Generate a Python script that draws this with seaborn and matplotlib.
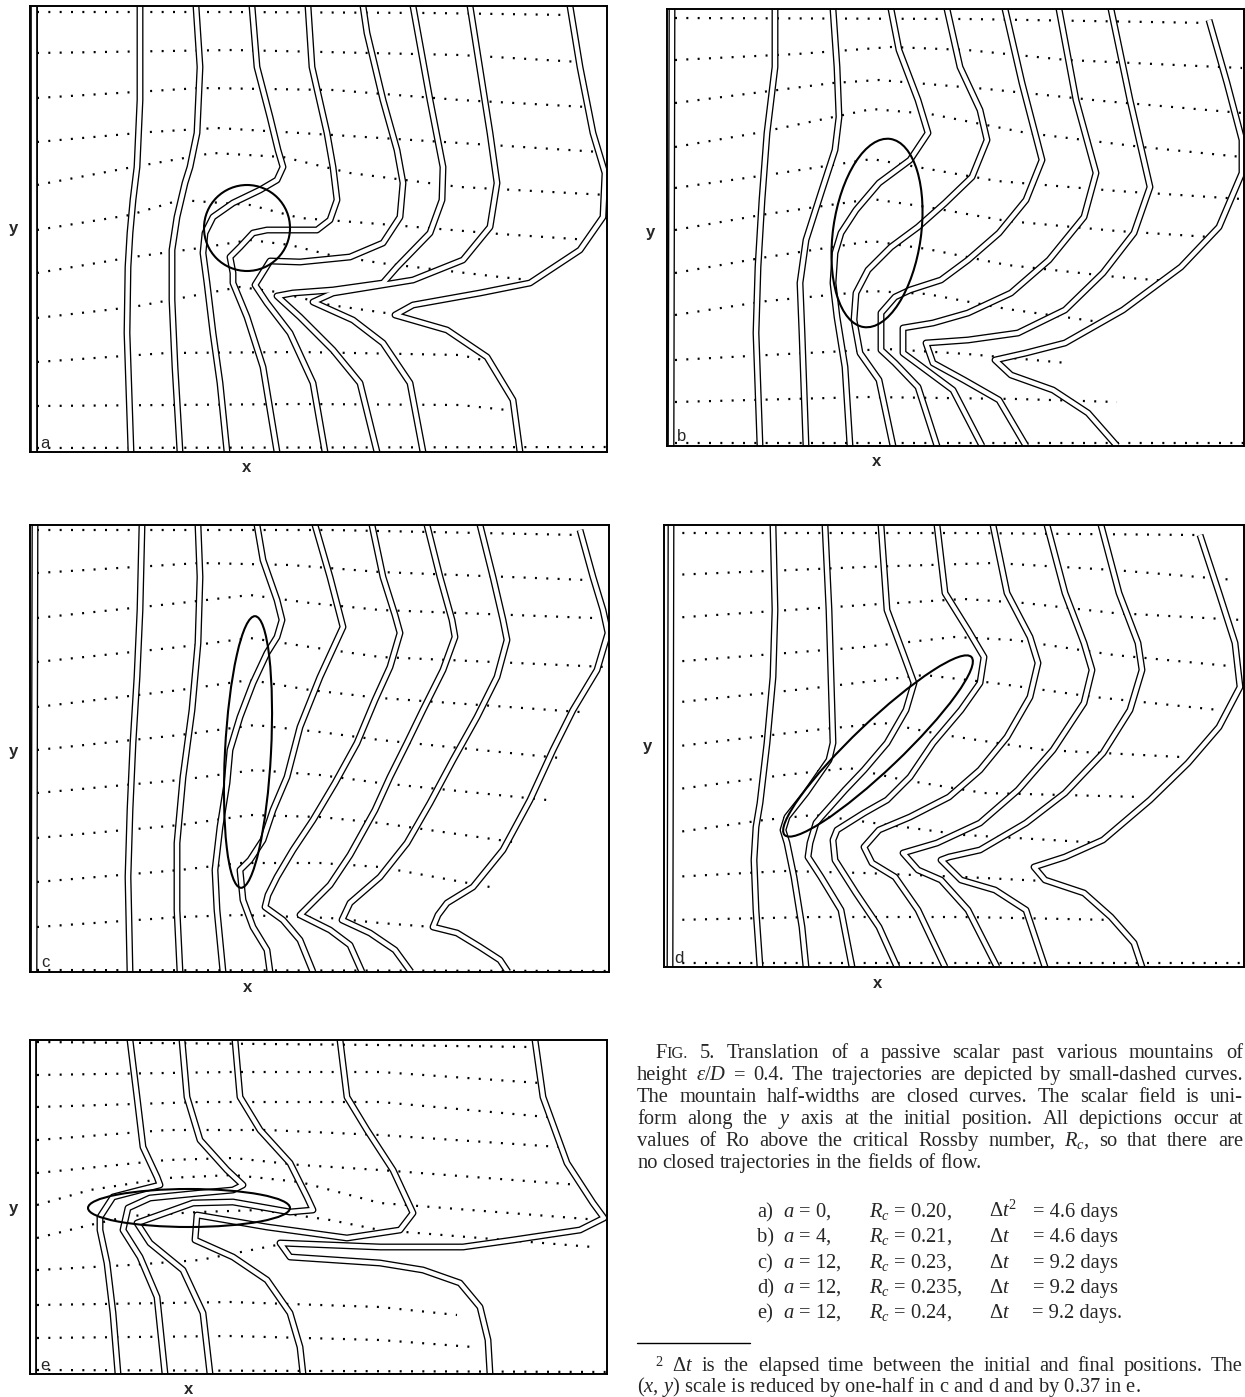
import numpy as np
import pandas as pd
import matplotlib
matplotlib.use("Agg")
import matplotlib.pyplot as plt
from matplotlib.patches import Ellipse
from matplotlib.lines import Line2D
import seaborn as sns

# ---------------- data: panel-local units (x from left frame, y from top frame) -------------
# Panel a
a_traj_x = [[7, 200, 400, 540], [7, 203, 430, 550], [7, 170, 303, 430, 557],
            [7, 120, 187, 303, 430, 570], [7, 103, 183, 253, 320, 430, 577],
            [7, 100, 150, 220, 270, 350, 470, 560], [7, 103, 170, 220, 260, 300, 350, 470, 500],
            [7, 103, 210, 247, 300, 370], [7, 137, 270, 430, 453], [7, 270, 430, 477], [7, 577]]
a_traj_y = [[6, 6, 7, 9], [47, 44, 49, 56], [92, 82, 84, 94, 101],
            [136, 126, 122, 129, 137, 146], [179, 161, 147, 151, 167, 181, 189],
            [224, 209, 194, 199, 212, 218, 228, 234], [267, 251, 242, 234, 239, 249, 257, 271, 274],
            [312, 301, 281, 286, 299, 309], [356, 347, 346, 349, 354], [400, 398, 399, 404], [442, 441]]
a_curve_x = [[4, 4], [110, 110, 107, 103, 100, 98, 97, 101],
             [166, 170, 167, 160, 155, 147, 142, 142, 145, 150],
             [222, 227, 240, 248, 253, 247, 230, 203, 183, 175, 173, 177, 183, 190, 197],
             [278, 282, 297, 303, 307, 300, 287, 237, 223, 210, 200, 203, 203, 217, 233, 247],
             [333, 337, 353, 367, 373, 370, 353, 320, 270, 240, 225, 237, 260, 283, 295],
             [383, 400, 413, 412, 400, 367, 353, 303, 263, 247, 270, 303, 330, 347],
             [440, 460, 467, 460, 433, 383, 303, 283, 323, 353, 380, 393],
             [540, 550, 563, 575, 573, 550, 500, 450, 383, 365, 417, 457, 483, 490]]
a_curve_y = [[0, 446], [0, 94, 161, 194, 227, 261, 327, 446],
             [0, 61, 127, 161, 177, 211, 244, 294, 361, 446],
             [0, 61, 111, 144, 161, 174, 184, 197, 211, 227, 247, 277, 327, 377, 446],
             [0, 61, 127, 161, 194, 214, 224, 224, 227, 241, 251, 267, 277, 311, 361, 446],
             [0, 27, 94, 144, 177, 211, 237, 251, 256, 255, 279, 297, 327, 377, 446],
             [0, 94, 161, 194, 227, 261, 277, 284, 287, 290, 311, 344, 377, 446],
             [0, 127, 177, 221, 254, 274, 287, 296, 314, 337, 377, 446],
             [0, 61, 127, 167, 211, 244, 277, 287, 299, 309, 324, 351, 394, 446]]
a_mountain = [217, 222, 43, 43, 0]   # centre x, centre y, half-width x, half-width y, tilt

# Panel b
b_traj_x = [[8, 300, 544], [8, 130, 224, 300, 400, 575], [8, 166, 212, 320, 436, 575],
            [8, 90, 205, 263, 360, 475, 575], [8, 100, 205, 250, 330, 450, 575],
            [8, 100, 205, 260, 340, 450, 543], [8, 100, 205, 260, 340, 450, 500],
            [8, 100, 205, 260, 340, 433], [8, 120, 220, 300, 400], [8, 200, 350, 450], [8, 577]]
b_traj_y = [[9, 10, 14], [51, 45, 38, 41, 51, 59], [94, 74, 71, 80, 92, 104],
            [138, 124, 100, 105, 124, 138, 148], [179, 166, 150, 158, 172, 182, 190],
            [221, 205, 190, 198, 212, 222, 228], [264, 248, 232, 240, 256, 268, 272],
            [306, 292, 282, 285, 300, 313], [351, 345, 340, 345, 354], [393, 388, 390, 393], [434, 434]]
b_curve_x = [[5, 4], [108, 108, 100, 95, 91, 89, 93],
             [166, 170, 172, 168, 154, 139, 133, 135, 139],
             [224, 232, 251, 261, 243, 212, 189, 174, 168, 166, 170, 178, 183],
             [280, 293, 313, 320, 305, 278, 251, 224, 201, 189, 187, 193, 212, 226],
             [338, 355, 375, 359, 332, 301, 274, 243, 228, 214, 214, 228, 251, 270],
             [392, 409, 429, 417, 382, 344, 301, 266, 236, 236, 255, 286, 315],
             [444, 463, 483, 467, 436, 398, 351, 301, 259, 266, 297, 332, 359],
             [542, 560, 575, 575, 552, 514, 456, 398, 359, 328, 344, 386, 421, 450]]
b_curve_y = [[0, 437], [0, 58, 124, 191, 258, 324, 437],
             [0, 58, 108, 141, 184, 231, 274, 324, 437],
             [0, 41, 91, 124, 151, 174, 201, 224, 244, 274, 308, 358, 437],
             [0, 58, 101, 131, 168, 194, 218, 238, 261, 284, 311, 344, 371, 437],
             [0, 74, 151, 191, 224, 251, 271, 281, 288, 304, 341, 354, 378, 437],
             [0, 91, 164, 208, 251, 284, 304, 314, 319, 344, 358, 381, 437],
             [0, 91, 178, 224, 264, 301, 324, 331, 334, 354, 371, 391, 437],
             [11, 74, 131, 164, 218, 258, 301, 334, 344, 351, 366, 381, 404, 437]]
b_mountain = [210, 224, 44, 95, 8]

# Panel c
c_traj_x = [[7, 300, 550], [7, 170, 260, 350, 557], [7, 150, 220, 280, 350, 563],
            [7, 150, 220, 280, 350, 577], [7, 150, 220, 280, 350, 550],
            [7, 150, 225, 290, 350, 530], [7, 150, 225, 290, 350, 517],
            [7, 150, 220, 290, 350, 490], [7, 150, 210, 290, 350, 460],
            [7, 150, 210, 300, 350, 403], [7, 579]]
c_traj_y = [[5, 5, 10], [48, 38, 40, 47, 55], [93, 78, 70, 78, 85, 93],
            [137, 122, 113, 122, 132, 142], [182, 165, 155, 165, 173, 187],
            [225, 210, 200, 207, 215, 233], [268, 255, 245, 250, 258, 275],
            [313, 300, 290, 292, 298, 318], [357, 345, 338, 338, 342, 362],
            [402, 392, 390, 393, 398, 402], [445, 446]]
c_curve_x = [[5, 4], [112, 110, 107, 103, 100, 98, 100],
             [168, 170, 168, 162, 153, 147, 147, 150],
             [227, 233, 247, 252, 247, 237, 223, 210, 200, 197, 190, 185, 187, 193],
             [285, 300, 313, 290, 270, 257, 243, 233, 220, 210, 213, 223, 237, 240],
             [342, 353, 365, 370, 360, 345, 327, 305, 283, 263, 247, 238, 235, 253, 270, 283],
             [397, 410, 422, 425, 413, 393, 377, 360, 345, 320, 300, 285, 270, 300, 320, 332],
             [450, 463, 473, 477, 467, 447, 423, 400, 377, 350, 320, 312, 340, 365, 381],
             [550, 563, 573, 578, 567, 543, 523, 500, 473, 443, 417, 408, 403, 427, 450, 470, 478]]
c_curve_y = [[0, 447], [0, 85, 152, 218, 285, 352, 447],
             [0, 52, 118, 185, 252, 318, 385, 447],
             [0, 35, 75, 95, 112, 128, 158, 192, 225, 258, 302, 345, 385, 447],
             [0, 52, 102, 152, 202, 252, 285, 315, 335, 345, 375, 402, 425, 447],
             [0, 52, 90, 108, 142, 175, 218, 258, 295, 325, 352, 370, 382, 395, 415, 447],
             [0, 52, 95, 112, 145, 185, 218, 252, 285, 330, 360, 375, 390, 405, 420, 447],
             [0, 52, 95, 115, 152, 192, 235, 278, 318, 352, 378, 395, 408, 425, 447],
             [5, 52, 85, 108, 145, 185, 225, 275, 325, 362, 378, 390, 402, 408, 422, 435, 447]]
c_mountain = [218, 227, 23, 136, 3]

# Panel d
d_traj_x = [[7, 300, 532], [7, 200, 330, 450, 571], [7, 200, 300, 360, 450, 578],
            [7, 200, 290, 350, 450, 576], [7, 150, 260, 330, 430, 555],
            [7, 150, 220, 280, 380, 517], [7, 120, 185, 240, 320, 478],
            [7, 100, 150, 210, 300, 439], [7, 120, 200, 300, 380], [7, 150, 300, 451], [7, 580]]
d_traj_y = [[8, 8, 10], [50, 42, 38, 45, 55], [93, 80, 74, 78, 88, 95],
            [137, 122, 112, 115, 130, 142], [178, 163, 150, 158, 172, 185],
            [222, 205, 198, 210, 225, 232], [265, 250, 243, 255, 268, 272],
            [308, 295, 290, 298, 310, 318], [352, 346, 348, 352, 356], [395, 392, 392, 395], [438, 438]]
d_curve_x = [[7, 6], [109, 111, 109, 103, 96, 92, 90, 92, 96],
             [161, 165, 167, 169, 165, 142, 123, 119, 123, 130, 138, 142],
             [217, 223, 239, 250, 242, 223, 200, 181, 157, 152, 146, 144, 157, 177, 188],
             [273, 281, 304, 320, 316, 297, 269, 246, 223, 200, 173, 169, 171, 192, 215, 233],
             [329, 343, 366, 374, 366, 343, 316, 285, 246, 215, 200, 208, 231, 254, 281],
             [383, 401, 420, 428, 420, 389, 354, 316, 273, 239, 254, 277, 304, 333],
             [437, 455, 474, 478, 466, 439, 401, 362, 316, 285, 277, 297, 331, 362, 381],
             [536, 555, 571, 576, 555, 524, 486, 439, 401, 370, 381, 420, 447, 470, 478]]
d_curve_y = [[0, 442], [0, 85, 152, 218, 278, 302, 335, 385, 442],
             [0, 85, 152, 218, 235, 268, 292, 305, 318, 352, 402, 442],
             [0, 85, 128, 158, 185, 218, 245, 265, 292, 298, 318, 332, 352, 385, 442],
             [0, 68, 105, 132, 158, 185, 218, 252, 275, 288, 305, 315, 335, 368, 402, 442],
             [0, 68, 112, 138, 172, 212, 245, 272, 292, 305, 322, 338, 352, 385, 442],
             [0, 68, 118, 145, 178, 225, 265, 298, 318, 328, 345, 355, 385, 442],
             [0, 68, 118, 145, 185, 228, 268, 298, 325, 332, 335, 355, 365, 385, 442],
             [10, 68, 118, 162, 202, 238, 275, 315, 332, 342, 355, 368, 392, 418, 442]]
d_mountain = [214, 221, 129, 24, -43.6]

# Panel e
e_traj_x = [[7, 350, 500], [7, 200, 350, 510], [7, 170, 350, 517], [7, 137, 237, 350, 530],
            [7, 137, 203, 270, 350, 550], [7, 60, 137, 203, 270, 350, 570],
            [7, 60, 100, 170, 230, 300, 350, 450, 563], [7, 100, 170, 247],
            [7, 200, 350, 427], [7, 200, 350, 443], [7, 577]]
e_traj_y = [[2, 5, 7], [35, 32, 32, 43], [67, 62, 62, 77], [100, 90, 90, 95, 107],
            [133, 120, 118, 125, 130, 145], [165, 150, 138, 135, 142, 163, 180],
            [198, 185, 176, 172, 170, 180, 190, 198, 207], [230, 225, 220, 205],
            [265, 262, 267, 275], [298, 296, 300, 307], [330, 332]]
e_curve_x = [[3, 3], [100, 107, 113, 127, 130, 110, 83, 70, 70, 77, 83, 88],
             [152, 157, 170, 197, 213, 203, 170, 120, 98, 93, 110, 127, 135],
             [205, 210, 230, 260, 277, 283, 260, 203, 163, 107, 120, 153, 173, 180],
             [310, 317, 337, 363, 383, 370, 317, 237, 167, 165, 203, 237, 260, 270, 273],
             [505, 513, 537, 563, 574, 550, 483, 433, 350, 250, 260, 350, 393, 430, 450, 458, 460]]
e_curve_y = [[0, 334], [0, 57, 107, 137, 145, 150, 157, 177, 190, 223, 273, 334],
             [0, 57, 100, 130, 145, 150, 153, 158, 168, 190, 217, 257, 334],
             [0, 57, 90, 123, 157, 170, 172, 162, 163, 183, 203, 230, 273, 334],
             [0, 57, 90, 130, 173, 190, 198, 187, 175, 200, 217, 240, 273, 307, 334],
             [0, 57, 123, 163, 178, 190, 200, 207, 207, 203, 217, 223, 230, 243, 267, 300, 334]]
e_mountain = [159, 168, 101, 19, 0]

panel_letters = ["a", "b", "c", "d", "e"]

FS = 14.8
caption_lines = [
    [[("F", FS), ("IG.", FS * 0.8)], "5.", "Translation", "of", "a", "passive", "scalar", "past",
     "various", "mountains", "of"],
    "height $\\varepsilon/D$ = 0.4. The trajectories are depicted by small-dashed curves.".split(" "),
    "The mountain half-widths are closed curves. The scalar field is uni-".split(" "),
    "form along the $y$ axis at the initial position. All depictions occur at".split(" "),
    "values of Ro above the critical Rossby number, $R_c$, so that there are".split(" "),
    "no closed trajectories in the fields of flow.".split(" "),
]
table_case = ["a)", "b)", "c)", "d)", "e)"]
table_a = ["0,", "4,", "12,", "12,", "12,"]
table_rc = ["0.20,", "0.21,", "0.23,", "0.235,", "0.24,"]
table_dt_sym = ["$\\Delta t^2$", "$\\Delta t$", "$\\Delta t$", "$\\Delta t$", "$\\Delta t$"]
table_dt = ["4.6 days", "4.6 days", "9.2 days", "9.2 days", "9.2 days."]
footnote_1 = ["$^2$", "$\\Delta t$"] + \
    "is the elapsed time between the initial and final positions. The".split(" ")
footnote_2 = "($x$, $y$) scale is reduced by one-half in c and d and by 0.37 in e."

# ---------------- style ----------------
sns.set_theme(style="white")
plt.rcParams["font.family"] = ["Liberation Sans", "DejaVu Sans"]
plt.rcParams["mathtext.fontset"] = "custom"
plt.rcParams["mathtext.rm"] = "Liberation Serif"
plt.rcParams["mathtext.it"] = "Liberation Serif:italic"
plt.rcParams["mathtext.bf"] = "Liberation Serif:bold"

W, H = 1245, 1397
fig = plt.figure(figsize=(W / 100, H / 100), dpi=100)
fig.patch.set_facecolor("white")

frames = {"a": (30, 6, 607, 452), "b": (667, 9, 1244, 446), "c": (30, 525, 609, 972),
          "d": (664, 525, 1244, 967), "e": (30, 1040, 607, 1374)}

panels = [
    ("a", a_traj_x, a_traj_y, a_curve_x, a_curve_y, a_mountain),
    ("b", b_traj_x, b_traj_y, b_curve_x, b_curve_y, b_mountain),
    ("c", c_traj_x, c_traj_y, c_curve_x, c_curve_y, c_mountain),
    ("d", d_traj_x, d_traj_y, d_curve_x, d_curve_y, d_mountain),
    ("e", e_traj_x, e_traj_y, e_curve_x, e_curve_y, e_mountain),
]


def to_df(xs_list, ys_list):
    rows = []
    for i, (xs, ys) in enumerate(zip(xs_list, ys_list)):
        for x, y in zip(xs, ys):
            rows.append((i, x, y))
    return pd.DataFrame(rows, columns=["id", "x", "y"])


label_kw = dict(fontsize=12, fontweight="bold", family="Liberation Sans",
                ha="center", va="center", clip_on=False)

for letter, tx, ty, cx, cy, mt in panels:
    x0, y0, x1, y1 = frames[letter]
    w, h = x1 - x0, y1 - y0
    ax = fig.add_axes([x0 / W, 1 - y1 / H, w / W, h / H])
    tdf = to_df(tx, ty)
    cdf = to_df(cx, cy)
    sns.lineplot(data=tdf, x="x", y="y", units="id", estimator=None, sort=False,
                 color="black", linewidth=1.6, linestyle=(0, (0.9, 4.2)), ax=ax,
                 zorder=1, legend=False)
    sns.lineplot(data=cdf, x="x", y="y", units="id", estimator=None, sort=False,
                 color="black", linewidth=5.0, solid_joinstyle="round",
                 solid_capstyle="butt", ax=ax, zorder=2, legend=False)
    sns.lineplot(data=cdf, x="x", y="y", units="id", estimator=None, sort=False,
                 color="white", linewidth=3.1, solid_joinstyle="round",
                 solid_capstyle="butt", ax=ax, zorder=3, legend=False)
    ax.add_patch(Ellipse((mt[0], mt[1]), 2 * mt[2], 2 * mt[3], angle=mt[4],
                         fill=False, ec="black", lw=1.5, zorder=4))
    ax.set_xlim(0, w)
    ax.set_ylim(h, 0)
    ax.set_xticks([])
    ax.set_yticks([])
    ax.set_xlabel("")
    ax.set_ylabel("")
    ax.set_facecolor("white")
    for sp in ax.spines.values():
        sp.set_visible(True)
        sp.set_color("black")
        sp.set_linewidth(1.4)
        sp.set_zorder(10)
    ax.text(mt[0], h + 16, "x", **label_kw)
    ax.text(-17, mt[1], "y", **label_kw)
    ax.text(15, h - 9, letter, fontsize=12, family="Liberation Sans",
            ha="center", va="center", zorder=11)

# ---------------- caption ----------------
renderer = fig.canvas.get_renderer()
SERIF = "Liberation Serif"


def place_words(words, x_left, x_right, baseline, size=FS, justify=True):
    items, widths = [], []
    for wd in words:
        segs = wd if isinstance(wd, list) else [(wd, size)]
        objs, tot = [], 0.0
        for s, fs in segs:
            t = fig.text(0, 0, s, fontsize=fs, family=SERIF, ha="left", va="baseline")
            bb = t.get_window_extent(renderer)
            objs.append((t, tot))
            tot += bb.width
        items.append(objs)
        widths.append(tot)
    if justify and len(words) > 1:
        gap = (x_right - x_left - sum(widths)) / (len(words) - 1)
    else:
        gap = size * 100 / 72 * 0.25
    x = x_left
    for objs, wdt in zip(items, widths):
        for t, off in objs:
            t.set_position(((x + off) / W, 1 - baseline / H))
        x += wdt + gap


para_base = [1058, 1080, 1102, 1124, 1146, 1168]
for i, words in enumerate(caption_lines):
    xl = 655 if i == 0 else 637
    place_words(words, xl, 1243, para_base[i], justify=(i < len(caption_lines) - 1))

table_base = [1217, 1242, 1268, 1293, 1318]
for i in range(5):
    yb = 1 - table_base[i] / H
    fig.text(757 / W, yb, table_case[i], fontsize=FS, family=SERIF, va="baseline")
    fig.text(783 / W, yb, "$a$ = " + table_a[i], fontsize=FS, family=SERIF, va="baseline")
    fig.text(869 / W, yb, "$R_c$ = " + table_rc[i], fontsize=FS, family=SERIF, va="baseline")
    fig.text(989 / W, yb, table_dt_sym[i], fontsize=FS, family=SERIF, va="baseline")
    fig.text(1118 / W, yb, "= " + table_dt[i], fontsize=FS, family=SERIF, va="baseline",
             ha="right" if i < 4 else "left")

# align last table row's trailing period beyond the column
fig.texts[-1].set_ha("right")
fig.texts[-1].set_position((1122 / W, 1 - table_base[4] / H))

fig.add_artist(Line2D([637 / W, 750 / W], [1 - 1343 / H, 1 - 1343 / H], color="black", lw=1.0))
place_words(footnote_1, 655, 1243, 1371)
fig.text(637 / W, 1 - 1392 / H, footnote_2, fontsize=FS, family=SERIF, va="baseline")

fig.savefig("out.png", dpi=100, facecolor="white")
